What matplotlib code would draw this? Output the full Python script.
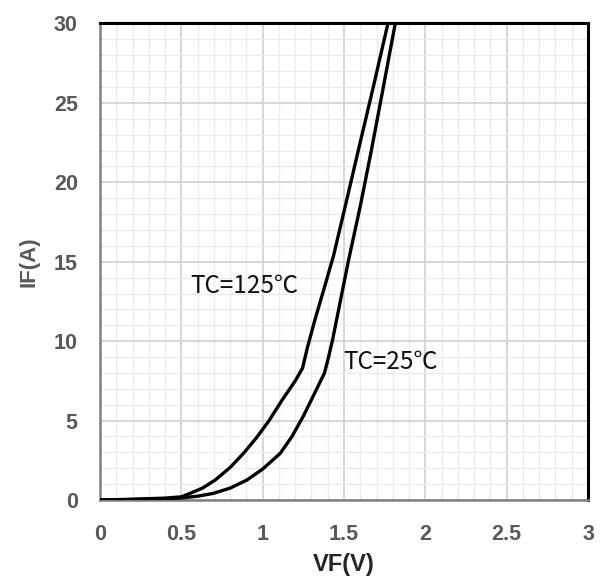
import numpy as np
import matplotlib.pyplot as plt
from matplotlib.ticker import MultipleLocator

# IF-VF characteristic, read points per junction temperature
vf_125 = [0.0, 0.2, 0.4, 0.5, 0.554, 0.63, 0.708, 0.80, 0.882, 0.96, 1.036, 1.12, 1.20, 1.245,
          1.275, 1.32, 1.38, 1.436, 1.51, 1.59, 1.68, 1.77]
if_125 = [0.0, 0.05, 0.12, 0.2, 0.42, 0.75, 1.26, 2.05, 2.94, 3.9, 4.95, 6.3, 7.5, 8.3,
          9.6, 11.3, 13.4, 15.4, 18.6, 22.1, 26.0, 30.0]

vf_25 = [0.0, 0.2, 0.4, 0.5, 0.6, 0.697, 0.80, 0.903, 1.0, 1.108, 1.18, 1.251, 1.323, 1.38,
         1.405, 1.43, 1.475, 1.528, 1.60, 1.668, 1.74, 1.815]
if_25 = [0.0, 0.03, 0.08, 0.13, 0.24, 0.42, 0.75, 1.26, 1.95, 2.94, 4.0, 5.3, 6.8, 8.0,
         9.0, 10.1, 12.4, 15.1, 18.5, 22.0, 25.9, 30.0]

x_ticks = [0, 0.5, 1, 1.5, 2, 2.5, 3]
x_labels = ['0', '0.5', '1', '1.5', '2', '2.5', '3']
y_ticks = [0, 5, 10, 15, 20, 25, 30]

fig = plt.figure(figsize=(6.04, 5.77), dpi=100)
ax = fig.add_axes([0.1656, 0.1334, 0.8079, 0.8259])

ax.plot(vf_125, if_125, color='black', lw=2.4, solid_joinstyle='round', zorder=3)
ax.plot(vf_25, if_25, color='black', lw=2.4, solid_joinstyle='round', zorder=3)

ax.set_xlim(0, 3)
ax.set_ylim(0, 30)
ax.set_xticks(x_ticks)
ax.set_xticklabels(x_labels)
ax.set_yticks(y_ticks)
ax.xaxis.set_minor_locator(MultipleLocator(0.1))
ax.yaxis.set_minor_locator(MultipleLocator(1))

ax.grid(which='major', color='#d6d6d6', lw=1.4)
ax.grid(which='minor', color='#ebebeb', lw=1.0)
ax.set_axisbelow(True)

ax.tick_params(axis='x', which='both', length=0, pad=17)
ax.tick_params(axis='y', which='both', length=0, pad=16)
for lab in ax.get_xticklabels() + ax.get_yticklabels():
    lab.set_fontfamily('Liberation Sans')
    lab.set_fontweight('bold')
    lab.set_fontsize(15.5)
    lab.set_color('#595959')

for side in ['top', 'right']:
    ax.spines[side].set_color('black')
    ax.spines[side].set_linewidth(2.2)
for side in ['left', 'bottom']:
    ax.spines[side].set_color('#7f7f7f')
    ax.spines[side].set_linewidth(1.8)

ax.set_xlabel('VF(V)', fontfamily='Liberation Sans', fontweight='bold',
              fontsize=17, color='#262626', labelpad=6)
ax.set_ylabel('IF(A)', fontfamily='Liberation Sans', fontweight='bold',
              fontsize=16, color='#595959', labelpad=10)

ax.text(0.555, 13.5, 'TC=125℃', fontsize=17.5, va='center', ha='left',
        family=['Noto Sans CJK SC', 'DejaVu Sans'], color='#111111')
ax.text(1.497, 8.7, 'TC=25℃', fontsize=17.5, va='center', ha='left',
        family=['Noto Sans CJK SC', 'DejaVu Sans'], color='#111111')

fig.savefig('out.png', dpi=100)
